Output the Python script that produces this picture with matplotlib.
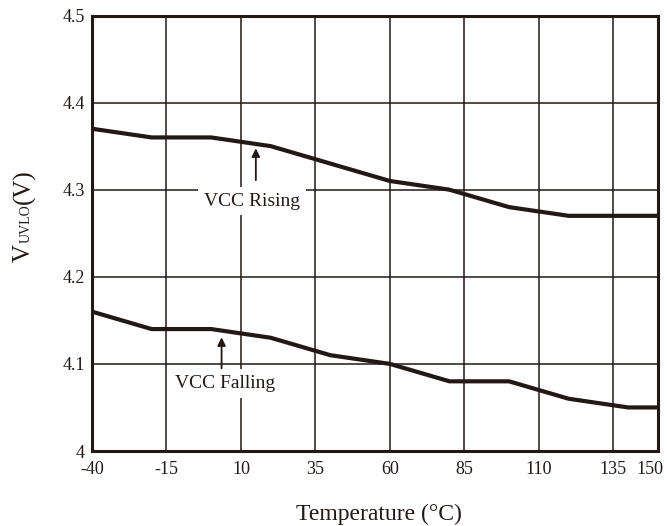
import matplotlib
matplotlib.use('Agg')
import matplotlib.pyplot as plt
from matplotlib.transforms import IdentityTransform, ScaledTranslation

# ---- data ----
temp_rising = [-40, -20, 0, 20, 60, 80, 100, 120, 150]
vcc_rising = [4.37, 4.36, 4.36, 4.35, 4.31, 4.30, 4.28, 4.27, 4.27]
temp_falling = [-40, -20, 0, 20, 40, 60, 80, 100, 120, 140, 150]
vcc_falling = [4.16, 4.14, 4.14, 4.13, 4.11, 4.10, 4.08, 4.08, 4.06, 4.05, 4.05]
x_ticks = [-40, -15, 10, 35, 60, 85, 110, 135, 150]
x_tick_labels = ['-40', '-15', '10', '35', '60', '85', '110', '135', '150']
y_ticks = [4.0, 4.1, 4.2, 4.3, 4.4, 4.5]
y_tick_labels = ['4', '4.1', '4.2', '4.3', '4.4', '4.5']

INK = '#231815'
plt.rcParams['font.family'] = ['Liberation Serif', 'DejaVu Serif']

W, H = 667, 526
fig = plt.figure(figsize=(W / 100, H / 100), dpi=100)
ax = fig.add_axes([92 / W, 75 / H, 566 / W, 435.5 / H])

ax.plot(temp_rising, vcc_rising, color=INK, lw=3.0, solid_joinstyle='round', zorder=3)
ax.plot(temp_falling, vcc_falling, color=INK, lw=3.0, solid_joinstyle='round', zorder=3)

ax.set_xlim(-40, 150)
ax.set_ylim(4.0, 4.5)
ax.set_xticks(x_ticks)
ax.set_xticklabels(x_tick_labels)
ax.set_yticks(y_ticks)
ax.set_yticklabels(y_tick_labels)
ax.tick_params(length=0, labelsize=13, colors=INK)
ax.tick_params(axis='x', pad=7)
ax.tick_params(axis='y', pad=5)
ax.grid(True, color=INK, lw=1.1, zorder=1)
for s in ax.spines.values():
    s.set_linewidth(2.2)
    s.set_color(INK)
    s.set_zorder(4)

# last x tick label ("150") sits slightly left so it stays inside the picture
last = ax.get_xticklabels()[-1]
last.set_transform(last.get_transform() + ScaledTranslation(-8 / 100, 0, fig.dpi_scale_trans))

# annotations
ax.annotate('', xy=(15, 4.3475), xytext=(15, 4.311),
            arrowprops=dict(arrowstyle='-|>', color=INK, lw=1.3, mutation_scale=12, shrinkA=0, shrinkB=0),
            zorder=5)
ax.text(13.7, 4.2815, 'VCC Rising', ha='center', va='baseline', fontsize=14, color=INK,
        bbox=dict(facecolor='white', edgecolor='none', pad=4), zorder=2)
ax.annotate('', xy=(3.5, 4.1305), xytext=(3.5, 4.095),
            arrowprops=dict(arrowstyle='-|>', color=INK, lw=1.3, mutation_scale=12, shrinkA=0, shrinkB=0),
            zorder=5)
ax.text(4.65, 4.0723, 'VCC Falling', ha='center', va='baseline', fontsize=14, color=INK,
        bbox=dict(facecolor='white', edgecolor='none', pad=4), zorder=2)

# x label
fig.text(379 / W, (H - 520) / H, 'Temperature (°C)', ha='center', va='baseline',
         fontsize=17, color=INK)

# y label composed of pieces (V, small UVLO on same baseline, (V))
fig.canvas.draw()
r = fig.canvas.get_renderer()
xb = 30
yb = H - 262
parts = [('V', 18), ('UVLO', 10), ('(V)', 18)]
cur = yb
for txt, fs in parts:
    t = fig.text(xb, cur, txt, transform=IdentityTransform(), rotation=90,
                 rotation_mode='anchor', ha='left', va='baseline', fontsize=fs, color=INK)
    bb = t.get_window_extent(renderer=r)
    cur += bb.height + (1 if txt == 'V' else 0)

fig.savefig('out.png', dpi=100)
